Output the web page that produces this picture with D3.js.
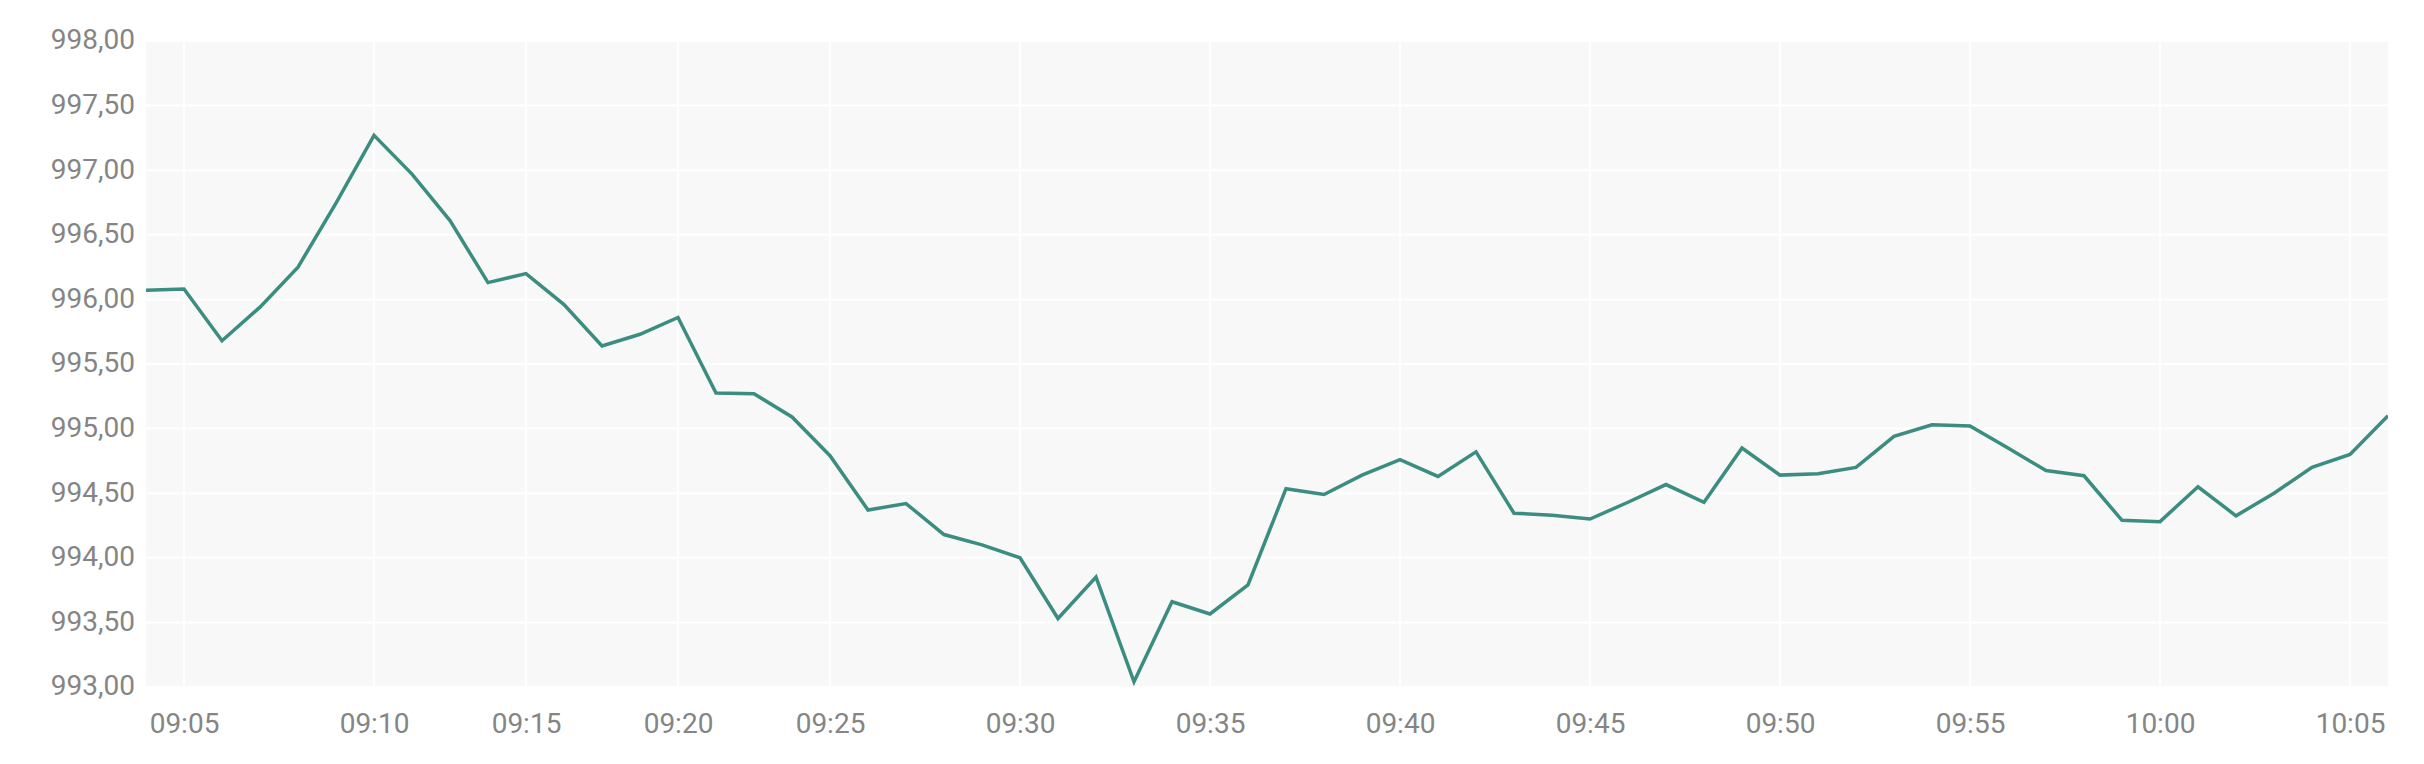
<!DOCTYPE html>
<html>
<head>
<meta charset="utf-8">
<script src="https://cdn.jsdelivr.net/npm/d3@7"></script>
<style>
  html, body { margin: 0; padding: 0; background: #ffffff; }
  svg { display: block; }
  text { font-family: Roboto, "Noto Sans", sans-serif; }
</style>
</head>
<body>
<svg id="chart" width="2424" height="764"></svg>
<script>
// ---- data ----
const times = [
  "09:04","09:05","09:06","09:07","09:08","09:09","09:10",
  "09:11","09:12","09:13","09:15",
  "09:16","09:17","09:18","09:20",
  "09:21","09:22","09:23","09:25",
  "09:26","09:27","09:28","09:29","09:30",
  "09:31","09:32","09:33","09:34","09:35",
  "09:36","09:37","09:38","09:39","09:40",
  "09:41","09:42","09:43","09:44","09:45",
  "09:46","09:47","09:48","09:49","09:50",
  "09:51","09:52","09:53","09:54","09:55",
  "09:56","09:57","09:58","09:59","10:00",
  "10:01","10:02","10:03","10:04","10:05",
  "10:06"
];
const prices = [
  996.07, 996.08, 995.68, 995.94, 996.25, 996.745, 997.27,
  996.97, 996.61, 996.13, 996.20,
  995.96, 995.64, 995.73, 995.86,
  995.275, 995.27, 995.09, 994.79,
  994.37, 994.42, 994.18, 994.10, 994.00,
  993.53, 993.85, 993.04, 993.66, 993.565,
  993.79, 994.535, 994.49, 994.64, 994.76,
  994.63, 994.82, 994.345, 994.33, 994.30,
  994.43, 994.567, 994.43, 994.85, 994.64,
  994.65, 994.70, 994.94, 995.03, 995.02,
  994.85, 994.675, 994.635, 994.29, 994.28,
  994.55, 994.325, 994.50, 994.70, 994.80,
  995.10
];
const yTicks = [993, 993.5, 994, 994.5, 995, 995.5, 996, 996.5, 997, 997.5, 998];
const xTickLabels = ["09:05","09:10","09:15","09:20","09:25","09:30","09:35","09:40","09:45","09:50","09:55","10:00","10:05"];

// ---- layout ----
const W = 2424, H = 764;
const margin = { left: 146, right: 36, top: 41, bottom: 77 };
const innerW = W - margin.left - margin.right;
const innerH = H - margin.top - margin.bottom;

const svg = d3.select("#chart");
const g = svg.append("g").attr("transform", `translate(${margin.left},${margin.top})`);

const x = d3.scaleLinear().domain([0, prices.length - 1]).range([0, innerW]);
const y = d3.scaleLinear().domain([993, 998]).range([innerH, 0]);

const locale = d3.formatLocale({ decimal: ",", thousands: ".", grouping: [3], currency: ["", " €"] });
const fmt = locale.format(".2f");

// background
g.append("rect")
  .attr("x", 0).attr("y", 0)
  .attr("width", innerW).attr("height", innerH)
  .attr("fill", "#f8f8f8");

// x tick indices (times that are multiples of 5 minutes and in label list)
const xTickIdx = times.map((t, i) => xTickLabels.includes(t) ? i : -1).filter(i => i >= 0);

// grid - horizontal
g.append("g")
  .selectAll("line")
  .data(yTicks)
  .join("line")
  .attr("x1", 0).attr("x2", innerW)
  .attr("y1", d => y(d)).attr("y2", d => y(d))
  .attr("stroke", "#ffffff")
  .attr("stroke-width", 2);

// grid - vertical
g.append("g")
  .selectAll("line")
  .data(xTickIdx)
  .join("line")
  .attr("x1", d => x(d)).attr("x2", d => x(d))
  .attr("y1", 0).attr("y2", innerH)
  .attr("stroke", "#ffffff")
  .attr("stroke-width", 2);

// y axis labels
const yAxis = d3.axisLeft(y).tickValues(yTicks).tickFormat(fmt).tickSize(0).tickPadding(11);
const yg = g.append("g").call(yAxis);
yg.select(".domain").remove();
yg.selectAll("text")
  .attr("fill", "#858585")
  .style("font-size", "28px")
  .style("font-family", "Roboto, sans-serif")
  .attr("dy", "0.28em");

// x axis labels
const xAxis = d3.axisBottom(x).tickValues(xTickIdx).tickFormat(i => times[i]).tickSize(0).tickPadding(26);
const xg = g.append("g").attr("transform", `translate(0,${innerH})`).call(xAxis);
xg.select(".domain").remove();
xg.selectAll("text")
  .attr("fill", "#858585")
  .style("font-size", "28px")
  .style("font-family", "Roboto, sans-serif");

// line
const line = d3.line()
  .x((d, i) => x(i))
  .y(d => y(d));

g.append("clipPath").attr("id", "clip")
  .append("rect").attr("x", 0).attr("y", -4).attr("width", innerW).attr("height", innerH + 8);

g.append("path")
  .datum(prices)
  .attr("clip-path", "url(#clip)")
  .attr("fill", "none")
  .attr("stroke", "#3b8d80")
  .attr("stroke-width", 3.5)
  .attr("stroke-linejoin", "miter")
  .attr("d", line);
</script>
</body>
</html>
